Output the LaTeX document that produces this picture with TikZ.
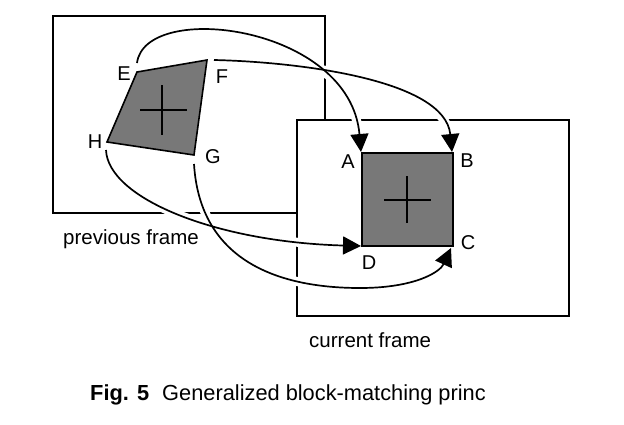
\documentclass[tikz,border=0pt]{standalone}
\usepackage{fontspec}
\setmainfont{Liberation Sans}
\usetikzlibrary{arrows.meta}
\begin{document}
\begin{tikzpicture}[x=1pt,y=-1pt,
  frame/.style={line width=1.6pt},
  blk/.style={draw, line width=1.6pt, fill=black!53},
  crossline/.style={line width=1.7pt},
  curve/.style={line width=1.7pt},
  gap/.style={line width=9pt, white, shorten >=14pt},
  tip/.style={-{Triangle[length=18pt,width=18pt]}},
  lab/.style={font=\fontsize{20}{23}\selectfont, inner sep=0pt},
  txt/.style={font=\fontsize{20.5}{24}\selectfont, inner sep=0pt, anchor=base west},
  captxt/.style={font=\fontsize{21.8}{25}\selectfont, inner sep=0pt, anchor=base west}]
\useasboundingbox (0,0) rectangle (624,424);
\fill[white] (0,0) rectangle (624,424);
% frames
\draw[frame] (53,16) rectangle (325,213);
\draw[frame, fill=white] (297,120) rectangle (569,316);
% corner points
\coordinate (E) at (137,72);
\coordinate (F) at (207,60);
\coordinate (G) at (194,155);
\coordinate (H) at (107,142);
\coordinate (A) at (362,153);
\coordinate (B) at (453,153);
\coordinate (C) at (453,246);
\coordinate (D) at (362,246);
% curve ends
\coordinate (Es) at (137,63);
\coordinate (Fs) at (214,60);
\coordinate (Gs) at (194,164);
\coordinate (Hs) at (106,150);
\coordinate (At) at (361,152);
\coordinate (Bt) at (452,152);
\coordinate (Dt) at (361,246);
\coordinate (Ct) at (451,248);
\coordinate (Gm) at (360,288);
% blocks
\draw[blk] (E) -- (F) -- (G) -- (H) -- cycle;
\draw[crossline] (140,110) -- (187,110) (162,85) -- (162,135);
\draw[blk] (A) rectangle (C);
\draw[crossline] (384,200) -- (431,200) (407,176) -- (407,223);
% white gaps under the curves
\draw[gap] (Es) .. controls (145,0) and (350,25) .. (At);
\draw[gap] (Fs) .. controls (300,62) and (445,80) .. (Bt);
\draw[gap] (Hs) .. controls (108,198) and (215,242) .. (Dt);
\draw[gap, shorten >=0pt] (Gs) .. controls (200,262) and (280,288) .. (Gm);
\draw[gap] (Gm) .. controls (415,288) and (440,272) .. (Ct);
% curves
\draw[curve, tip] (Es) .. controls (145,0) and (350,25) .. (At);
\draw[curve, tip] (Fs) .. controls (300,62) and (445,80) .. (Bt);
\draw[curve, tip] (Hs) .. controls (108,198) and (215,242) .. (Dt);
\draw[curve] (Gs) .. controls (200,262) and (280,288) .. (Gm);
\draw[curve, tip] (Gm) .. controls (415,288) and (440,272) .. (Ct);
% labels
\node[lab] (lE) at (124,74) {E};
\node[lab] (lF) at (222,77) {F};
\node[lab] (lG) at (213,157) {G};
\node[lab] (lH) at (95,142) {H};
\node[lab] (lA) at (348,162) {A};
\node[lab] (lB) at (467,161) {B};
\node[lab] (lC) at (468,243) {C};
\node[lab] (lD) at (369,263) {D};
\node[txt] (prev) at (63,244) {previous frame};
\node[txt] (curr) at (309,347) {current frame};
\node[captxt] (cap) at (90,400) {\textbf{Fig. 5}\hspace{0.6em}Generalized block-matching princ};
\end{tikzpicture}
\end{document}
